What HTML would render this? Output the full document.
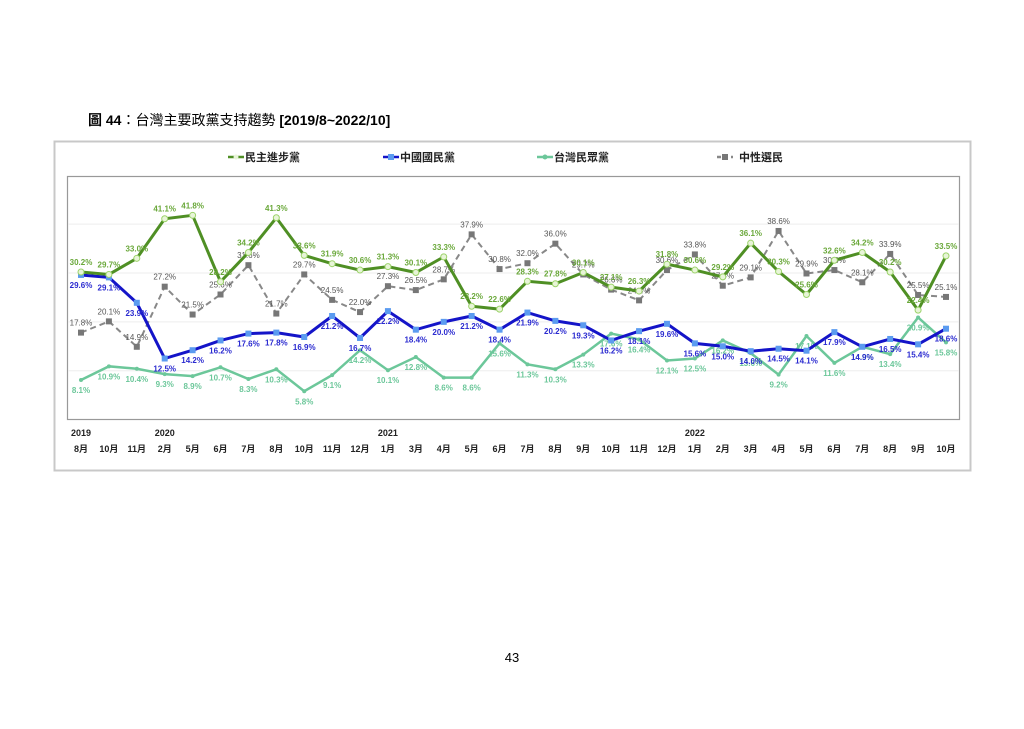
<!DOCTYPE html>
<html><head><meta charset="utf-8"><style>
body{margin:0;background:#fff;width:1024px;height:724px;overflow:hidden;font-family:"Liberation Sans","Noto Sans CJK TC",sans-serif}
</style></head><body>
<svg width="1024" height="724" xmlns="http://www.w3.org/2000/svg" font-family="Liberation Sans, Noto Sans CJK TC, sans-serif">
<text x="88" y="125" font-size="14" fill="#000"><tspan font-weight="bold">圖 44</tspan>：台灣主要政黨支持趨勢 <tspan font-weight="bold">[2019/8~2022/10]</tspan></text>
<rect x="54.5" y="141.5" width="916" height="329" fill="#fff" stroke="#c8c8c8" stroke-width="2"/>
<rect x="67.5" y="176.5" width="892" height="243" fill="#fff" stroke="#999" stroke-width="1.2"/>
<g id="grid"></g>
<g id="legend" font-size="11" font-weight="bold"></g>
<g id="series"></g>
<g id="xaxis" font-size="9" font-weight="bold" fill="#222"></g>
<text x="512" y="662" font-size="13" text-anchor="middle">43</text>
</svg>
<script>
const months=["8月","10月","11月","2月","5月","6月","7月","8月","10月","11月","12月","1月","3月","4月","5月","6月","7月","8月","9月","10月","11月","12月","1月","2月","3月","4月","5月","6月","7月","8月","9月","10月"];
const years={0:"2019",3:"2020",11:"2021",22:"2022"};
const dpp=[30.2,29.7,33.0,41.1,41.8,28.2,34.2,41.3,33.6,31.9,30.6,31.3,30.1,33.3,23.2,22.6,28.3,27.8,30.1,27.1,26.3,31.8,30.6,29.2,36.1,30.3,25.6,32.6,34.2,30.2,22.4,33.5];
const kmt=[29.6,29.1,23.9,12.5,14.2,16.2,17.6,17.8,16.9,21.2,16.7,22.2,18.4,20.0,21.2,18.4,21.9,20.2,19.3,16.2,18.1,19.6,15.6,15.0,14.0,14.5,14.1,17.9,14.9,16.5,15.4,18.6];
const tpp=[8.1,10.9,10.4,9.3,8.9,10.7,8.3,10.3,5.8,9.1,14.2,10.1,12.8,8.6,8.6,15.6,11.3,10.3,13.3,17.6,16.4,12.1,12.5,16.2,13.6,9.2,17.1,11.6,14.9,13.4,20.9,15.8];
const neutral=[17.8,20.1,14.9,27.2,21.5,25.6,31.6,21.7,29.7,24.5,22.0,27.3,26.5,28.7,37.9,30.8,32.0,36.0,29.7,26.6,24.4,30.6,33.8,27.4,29.1,38.6,29.9,30.6,28.1,33.9,25.5,25.1];
const names=["民主進步黨","中國國民黨","台灣民眾黨","中性選民"];
const NS="http://www.w3.org/2000/svg";
const x=i=>81+i*(946-81)/(months.length-1);
const y=v=>419.6-v*4.887;
function mk(tag,attrs,parent){const e=document.createElementNS(NS,tag);for(const k in attrs)e.setAttribute(k,attrs[k]);parent.appendChild(e);return e;}
const grid=document.getElementById('grid');
[10,20,30,40].forEach(v=>{const l=mk('line',{x1:68,x2:959,y1:y(v),y2:y(v),stroke:'#eee','stroke-width':1},grid);

});
const xa=document.getElementById('xaxis');
months.forEach((m,i)=>{const t=mk('text',{x:x(i),y:452,'text-anchor':'middle'},xa);t.textContent=m;


if(years[i]){const yt=mk('text',{x:x(i),y:436,'text-anchor':'middle'},xa);yt.textContent=years[i];

}});
const series=[
 {d:neutral,c:'#888',lc:'#555',dash:'6,4',mk:'sq',mf:'#777',w:2,off:-7,name:'neutral'},
 {d:tpp,c:'#6cc79a',lc:'#6cc79a',mk:'tri',mf:'#6cc79a',w:2.5,off:13,name:'tpp'},
 {d:kmt,c:'#1414c8',lc:'#2a2ad0',mk:'sq',mf:'#5b9bf0',w:3,off:13,name:'kmt'},
 {d:dpp,c:'#4f8f24',lc:'#6aa83a',mk:'ci',mf:'#e8f5d8',w:3,off:-7,name:'dpp'}];
const sg=document.getElementById('series');
series.forEach(s=>{
 const g=mk('g',{},sg);
 
 
 const p=mk('polyline',{points:s.d.map((v,i)=>x(i)+','+y(v)).join(' '),fill:'none',stroke:s.c,'stroke-width':s.w,'stroke-dasharray':s.dash||'none'},g);
 
 
 s.d.forEach((v,i)=>{let m;
  if(s.mk==='sq')m=mk('rect',{x:x(i)-3,y:y(v)-3,width:6,height:6,fill:s.mf},g);
  else if(s.mk==='ci')m=mk('circle',{cx:x(i),cy:y(v),r:3,fill:s.mf,stroke:'#9cd36a','stroke-width':1},g);
  else m=mk('circle',{cx:x(i),cy:y(v),r:2,fill:s.mf},g);
  
  
  const t=mk('text',{x:x(i),y:y(v)+s.off,'text-anchor':'middle','font-size':8,'font-weight':s.name==='neutral'?'normal':'bold',fill:s.lc},g);
  t.textContent=v.toFixed(1)+'%';
  
  });
});
const lg=document.getElementById('legend');
const lx=[228,383,537,717];
[[ '#4f8f24','ci'],['#1414c8','sq'],['#6cc79a','tri'],['#888','sq']].forEach((c,k)=>{
 const g=mk('g',{},lg);
 
 
 mk('line',{x1:lx[k],x2:lx[k]+16,y1:157,y2:157,stroke:c[0],'stroke-width':2.5,'stroke-dasharray':k===3?'4,3':'none'},g);
 if(c[1]==='sq')mk('rect',{x:lx[k]+5,y:154,width:6,height:6,fill:k===1?'#5b9bf0':'#777'},g);
 else mk('circle',{cx:lx[k]+8,cy:157,r:2.5,fill:k===0?'#e8f5d8':c[0]},g);
 const t=mk('text',{x:lx[k]+(k===3?22:17),y:161,fill:'#222'},g);t.textContent=names[k];
});
</script>
</body></html>
